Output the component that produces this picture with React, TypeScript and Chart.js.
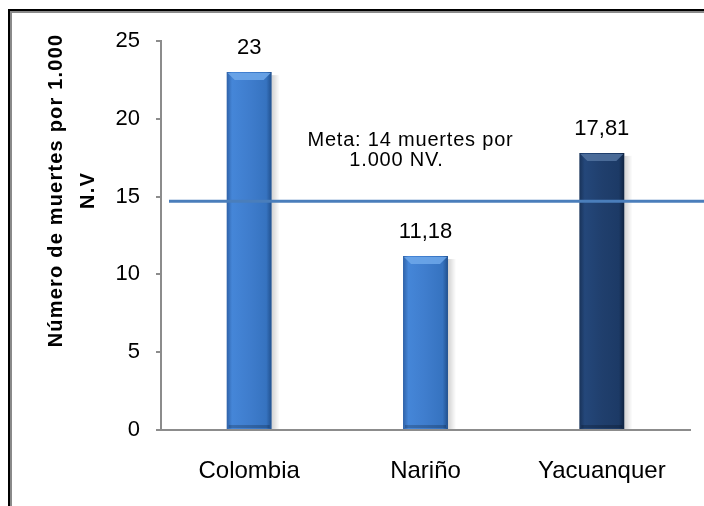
import React, { useEffect, useRef } from "react";
import { Chart, registerables } from "chart.js";

Chart.register(...registerables);

const CATEGORIES = ["Colombia", "Nariño", "Yacuanquer"];
const VALUES = [23, 11.18, 17.81];
const VALUE_LABELS = ["23", "11,18", "17,81"];
const META_VALUE = 14.7;
const META_TEXT = ["Meta: 14 muertes por", "1.000 NV."];
const Y_TITLE = ["Número de muertes por 1.000", "N.V"];
const Y_MIN = 0;
const Y_MAX = 25;
const Y_STEP = 5;

const FONT = "'Liberation Sans', Arial, sans-serif";

const GRADIENTS = [
  ["#2f62a8", "#4586d8", "#3f7dcd", "#3673c0", "#21508d"],
  ["#2f62a8", "#4586d8", "#3f7dcd", "#3673c0", "#21508d"],
  ["#193359", "#24477a", "#203f6d", "#1c3a66", "#0f2340"],
];
const TOP_HIGHLIGHT = ["#6ea8ea", "#6ea8ea", "#5273a0"];

const barStyle = {
  id: "barStyle",
  beforeDatasetsDraw(chart: any) {
    const ctx = chart.ctx;
    const meta = chart.getDatasetMeta(0);
    meta.data.forEach((bar: any) => {
      const { x, y, base, width } = bar.getProps(["x", "y", "base", "width"], true);
      const r = x + width / 2;
      ctx.save();
      const g = ctx.createLinearGradient(r, 0, r + 8, 0);
      g.addColorStop(0, "rgba(0,0,0,0.18)");
      g.addColorStop(1, "rgba(0,0,0,0)");
      ctx.fillStyle = g;
      ctx.fillRect(r, y + 3, 8, base - y - 3);
      ctx.restore();
    });
  },
  afterDatasetsDraw(chart: any) {
    const ctx = chart.ctx;
    const meta = chart.getDatasetMeta(0);
    meta.data.forEach((bar: any, i: number) => {
      const { x, y, base, width } = bar.getProps(["x", "y", "base", "width"], true);
      const l = x - width / 2;
      const r = x + width / 2;
      ctx.save();
      ctx.fillStyle = TOP_HIGHLIGHT[i];
      ctx.globalAlpha = 0.85;
      ctx.beginPath();
      ctx.moveTo(l + 1, y + 1);
      ctx.lineTo(r - 1, y + 1);
      ctx.lineTo(r - 8, y + 8);
      ctx.lineTo(l + 8, y + 8);
      ctx.closePath();
      ctx.fill();
      ctx.globalAlpha = 0.2;
      ctx.fillStyle = "#000";
      ctx.fillRect(l + 2, base - 4, width - 4, 3);
      ctx.restore();
    });
  },
};

const metaLine = {
  id: "metaLine",
  afterDatasetsDraw(chart: any) {
    const { ctx, scales } = chart;
    const y = scales.y.getPixelForValue(META_VALUE);
    ctx.save();
    ctx.strokeStyle = "#4a7ebb";
    ctx.lineWidth = 3;
    ctx.beginPath();
    ctx.moveTo(scales.y.right + 8, y);
    ctx.lineTo(chart.width, y);
    ctx.stroke();
    ctx.restore();
  },
};

const textsPlugin = {
  id: "texts",
  afterDraw(chart: any) {
    const { ctx, scales } = chart;
    const meta = chart.getDatasetMeta(0);
    ctx.save();
    ctx.fillStyle = "#000";
    ctx.font = `22px ${FONT}`;
    ctx.textAlign = "center";
    ctx.textBaseline = "middle";
    meta.data.forEach((bar: any, i: number) => {
      ctx.fillText(VALUE_LABELS[i], bar.x, bar.y - 24);
    });
    // meta text
    ctx.font = `20px ${FONT}`;
    (ctx as any).letterSpacing = "0.8px";
    const mx = scales.x.getPixelForValue(1) - 15;
    ctx.fillText(META_TEXT[0], mx, scales.y.getPixelForValue(18.63));
    ctx.fillText(META_TEXT[1], mx - 14, scales.y.getPixelForValue(17.3));
    // y title
    ctx.font = `bold 20px ${FONT}`;
    (ctx as any).letterSpacing = "1.2px";
    const cy = (scales.y.top + scales.y.bottom) / 2 - 45;
    ctx.translate(56, cy);
    ctx.rotate(-Math.PI / 2);
    ctx.fillText(Y_TITLE[0], 0, 0);
    ctx.fillText(Y_TITLE[1], 0, 32);
    ctx.restore();
  },
};

export default function App() {
  const ref = useRef<HTMLCanvasElement | null>(null);

  useEffect(() => {
    if (!ref.current) return;
    const chart = new Chart(ref.current, {
      type: "bar",
      data: {
        labels: CATEGORIES,
        datasets: [
          {
            data: VALUES,
            barPercentage: 0.255,
            categoryPercentage: 1,
            borderWidth: 0,
            backgroundColor: (c: any) => {
              const ch = c.chart;
              const i = c.dataIndex ?? 0;
              const stops = GRADIENTS[i] || GRADIENTS[0];
              const xs = ch.scales && ch.scales.x;
              if (!xs || !ch.chartArea) return stops[2];
              const cx = xs.getPixelForValue(i);
              const hw = ((xs.width / CATEGORIES.length) * 0.255) / 2;
              const g = ch.ctx.createLinearGradient(cx - hw, 0, cx + hw, 0);
              g.addColorStop(0, stops[0]);
              g.addColorStop(0.12, stops[1]);
              g.addColorStop(0.5, stops[2]);
              g.addColorStop(0.88, stops[3]);
              g.addColorStop(1, stops[4]);
              return g;
            },
          },
        ],
      },
      options: {
        responsive: false,
        animation: false,
        layout: { padding: { left: 0, right: 14, top: 41, bottom: 0 } },
        plugins: {
          legend: { display: false },
          tooltip: { enabled: false },
          title: { display: false },
        },
        scales: {
          x: {
            grid: { display: true, drawOnChartArea: false, drawTicks: false },
            border: { display: true, color: "#8c8c8c", width: 2 },
            ticks: {
              color: "#000",
              padding: 27,
              font: { family: FONT, size: 24 },
            },
            afterFit: (s: any) => {
              s.height = 76;
            },
          },
          y: {
            min: Y_MIN,
            max: Y_MAX,
            ticks: {
              stepSize: Y_STEP,
              color: "#000",
              padding: 16,
              font: { family: FONT, size: 22 },
            },
            grid: {
              display: true,
              drawOnChartArea: false,
              drawTicks: true,
              tickLength: 5,
              color: "#8c8c8c",
              lineWidth: 2,
            },
            border: { display: true, color: "#8c8c8c", width: 2 },
            afterFit: (s: any) => {
              s.width = 161;
            },
          },
        },
      },
      plugins: [barStyle, metaLine, textsPlugin],
    });
    return () => chart.destroy();
  }, []);

  return (
    <div style={{ position: "fixed", left: 0, top: 0, width: 704, height: 506, background: "#fff", overflow: "hidden" }}>
      <div
        style={{
          position: "absolute",
          left: 8,
          top: 9,
          width: 760,
          height: 560,
          borderLeft: "2px solid #000",
          borderTop: "2px solid #000",
        }}
      >
        <div
          style={{
            position: "absolute",
            left: 0,
            top: 0,
            right: 0,
            bottom: 0,
            borderLeft: "2px solid #8a8a8a",
            borderTop: "2px solid #8a8a8a",
          }}
        />
      </div>
      <canvas ref={ref} width={704} height={506} style={{ position: "absolute", left: 0, top: 0 }} />
    </div>
  );
}
